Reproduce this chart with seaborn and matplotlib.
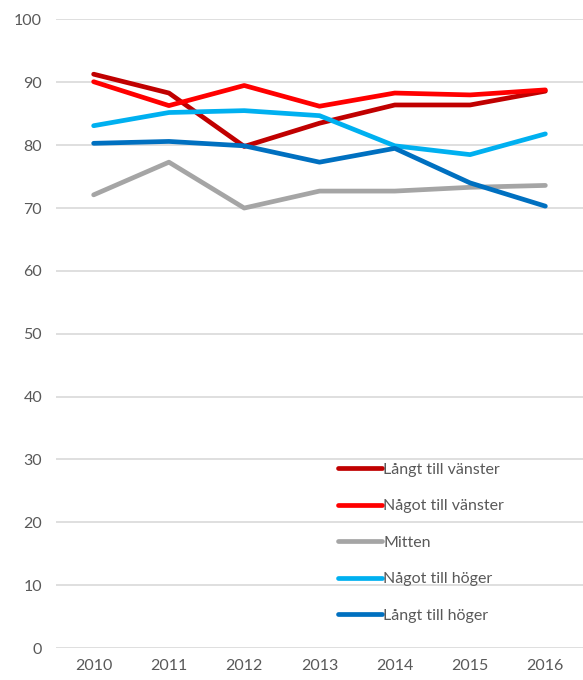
import matplotlib
matplotlib.use("Agg")
import matplotlib.pyplot as plt
import seaborn as sns
import pandas as pd

years = ["2010", "2011", "2012", "2013", "2014", "2015", "2016"]
series_names = ["Långt till vänster", "Något till vänster", "Mitten", "Något till höger", "Långt till höger"]
langt_vanster = [91.3, 88.3, 79.8, 83.5, 86.4, 86.4, 88.6]
nagot_vanster = [90.1, 86.3, 89.5, 86.2, 88.3, 88.0, 88.8]
mitten = [72.1, 77.3, 70.0, 72.7, 72.7, 73.3, 73.6]
nagot_hoger = [83.1, 85.2, 85.5, 84.7, 79.9, 78.5, 81.8]
langt_hoger = [80.3, 80.6, 79.9, 77.3, 79.5, 74.0, 70.3]
yticks = [0, 10, 20, 30, 40, 50, 60, 70, 80, 90, 100]

colors = ["#C00000", "#FF0000", "#A5A5A5", "#00B0F0", "#0070C0"]

values = [langt_vanster, nagot_vanster, mitten, nagot_hoger, langt_hoger]
rows = []
for name, vals in zip(series_names, values):
    for y, v in zip(years, vals):
        rows.append({"År": y, "Värde": v, "Grupp": name})
df = pd.DataFrame(rows)

sns.set_theme(style="white")
plt.rcParams["font.family"] = ["Lato", "DejaVu Sans"]

fig = plt.figure(figsize=(5.83, 6.8), dpi=100)
ax = fig.add_axes([56 / 583, 32 / 680, 1 - 56 / 583, (648 - 19.5) / 680])

sns.lineplot(data=df, x="År", y="Värde", hue="Grupp", hue_order=series_names,
             palette=colors, linewidth=3.4, ax=ax, sort=False,
             solid_capstyle="round")

ax.set_xlim(-0.5, 6.5)
ax.set_ylim(0, 100)
ax.set_yticks(yticks)
ax.yaxis.grid(True, color="#D9D9D9", linewidth=1.2)
ax.set_axisbelow(True)
for s in ax.spines.values():
    s.set_visible(False)
ax.set_xlabel("")
ax.set_ylabel("")
ax.tick_params(axis="both", length=0, labelsize=11.5, colors="#595959", pad=10)
ax.tick_params(axis="x", pad=8)

leg = ax.legend(loc="upper left", bbox_to_anchor=(324 / 583, 1 - 448 / 680),
                bbox_transform=fig.transFigure, frameon=False, fontsize=11.5,
                handlelength=2.7, handletextpad=0.1, labelspacing=1.4)
for t in leg.get_texts():
    t.set_color("#595959")
for h in leg.get_lines():
    h.set_linewidth(3.4)
    h.set_solid_capstyle("round")

fig.savefig("out.png", dpi=100)
